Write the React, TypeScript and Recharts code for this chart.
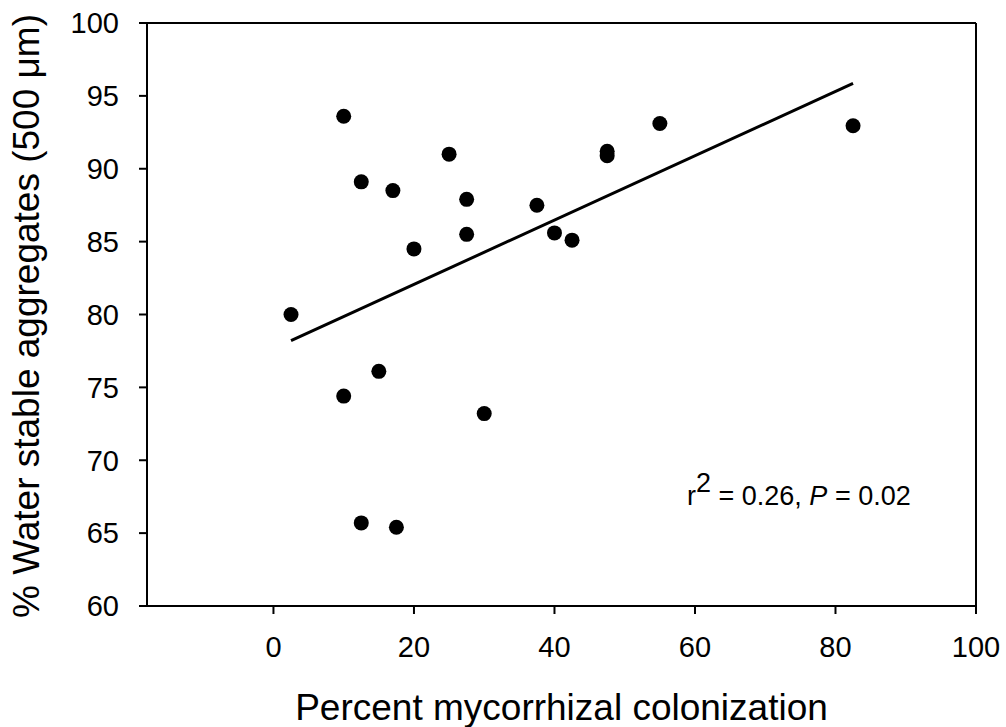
import {
  ScatterChart,
  Scatter,
  XAxis,
  YAxis,
  ReferenceLine,
  Customized,
} from "recharts";

const FONT = "'Liberation Sans', Arial, sans-serif";

// % mycorrhizal colonization
const colonization = [
  2.5, 10, 10, 12.5, 12.5, 15, 17, 17.5, 20, 25, 27.5, 27.5, 30, 37.5, 40,
  42.5, 47.5, 47.5, 55, 82.5,
];
// % water stable aggregates
const aggregates = [
  80.0, 93.6, 74.4, 89.1, 65.7, 76.1, 88.5, 65.4, 84.5, 91.0, 87.9, 85.5,
  73.2, 87.5, 85.6, 85.1, 91.2, 90.9, 93.1, 92.95,
];

// fitted line endpoints
const fitX = [2.5, 82.5];
const fitY = [78.2, 95.86];

const xTicks = [0, 20, 40, 60, 80, 100];
const yTicks = [60, 65, 70, 75, 80, 85, 90, 95, 100];

const points = colonization.map((x, i) => ({ x, y: aggregates[i] }));

const Dot = (props: any) => (
  <circle cx={props.cx} cy={props.cy} r={7.5} fill="#000" />
);

const Annotation = () => (
  <text x={687} y={505} fontFamily={FONT} fontSize={27} fill="#000">
    r
    <tspan dy={-13}>2</tspan>
    <tspan dy={13}> = 0.26, </tspan>
    <tspan fontStyle="italic">P</tspan>
    <tspan> = 0.02</tspan>
  </text>
);

export default function App() {
  return (
    <div style={{ position: "absolute", left: 0, top: 0, background: "#fff" }}>
      <ScatterChart
        width={1006}
        height={727}
        margin={{ top: 23, right: 30, left: 0, bottom: 0 }}
      >
        <XAxis
          type="number"
          dataKey="x"
          domain={[-18, 100]}
          ticks={xTicks}
          allowDataOverflow
          height={121}
          tickSize={8}
          tickMargin={22}
          stroke="#000"
          strokeWidth={2}
          tick={{ fill: "#000", fontSize: 29, fontFamily: FONT }}
          label={{
            content: () => (
              <text
                x={561.5}
                y={720}
                textAnchor="middle"
                fontFamily={FONT}
                fontSize={37}
                fill="#000"
              >
                Percent mycorrhizal colonization
              </text>
            ),
          }}
        />
        <YAxis
          type="number"
          dataKey="y"
          domain={[60, 100]}
          ticks={yTicks}
          allowDataOverflow
          width={147}
          tickSize={8}
          tickMargin={20}
          stroke="#000"
          strokeWidth={2}
          tick={{ fill: "#000", fontSize: 29, fontFamily: FONT }}
          label={{
            content: () => (
              <text
                x={39}
                y={316}
                transform="rotate(-90, 39, 316)"
                textAnchor="middle"
                fontFamily={FONT}
                fontSize={37}
                fill="#000"
              >
                % Water stable aggregates (500 μm)
              </text>
            ),
          }}
        />
        <ReferenceLine y={100} stroke="#000" strokeWidth={2} />
        <ReferenceLine x={100} stroke="#000" strokeWidth={2} />
        <ReferenceLine
          segment={[
            { x: fitX[0], y: fitY[0] },
            { x: fitX[1], y: fitY[1] },
          ]}
          stroke="#000"
          strokeWidth={3}
        />
        <Scatter data={points} shape={Dot} isAnimationActive={false} />
        <Customized component={Annotation} />
      </ScatterChart>
    </div>
  );
}
